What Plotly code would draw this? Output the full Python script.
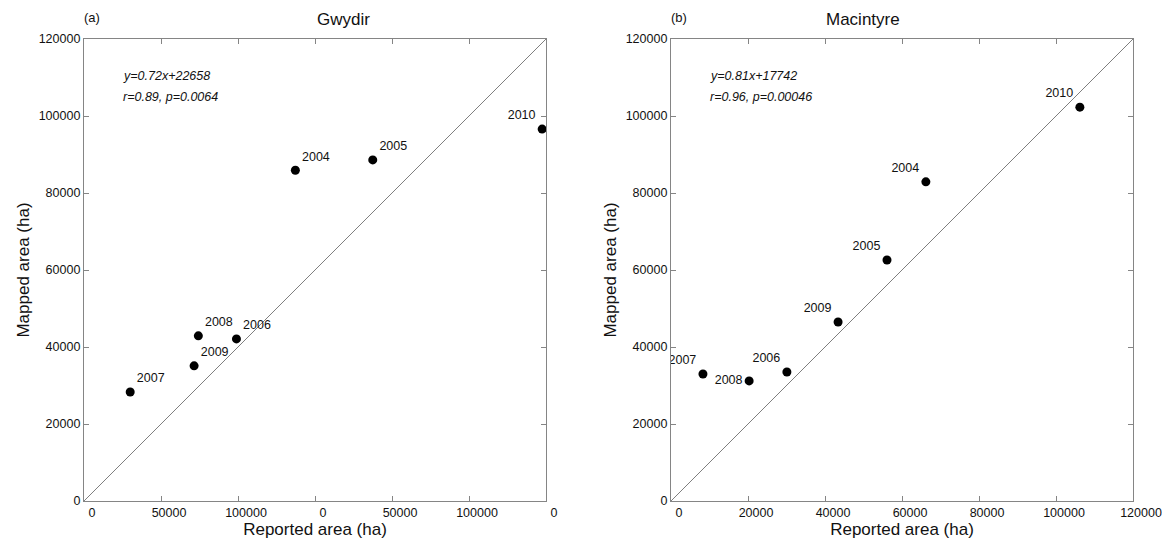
import plotly.graph_objects as go

years_g = ["2004", "2005", "2010", "2008", "2006", "2009", "2007"]
reported_g = [54900, 75000, 119000, 29700, 39600, 28600, 12000]
mapped_g = [85900, 88600, 96600, 42900, 42100, 35100, 28300]
pos_g = ["top right", "top right", "top left", "top right", "top right", "top right", "top right"]

years_m = ["2010", "2004", "2005", "2009", "2006", "2008", "2007"]
reported_m = [106200, 66200, 56100, 43400, 30100, 20300, 8300]
mapped_m = [102300, 82900, 62600, 46500, 33500, 31200, 33000]
pos_m = ["top left", "top left", "top left", "top left", "top left", "middle left", "top left"]

tickvals = [0, 20000, 40000, 60000, 80000, 100000, 120000]
ticktext_g = ["0", "50000", "100000", "0", "50000", "100000", "0"]
ticktext_m = ["0", "20000", "40000", "60000", "80000", "100000", "120000"]

fit_g = "y=0.72x+22658"
stat_g = "r=0.89, p=0.0064"
fit_m = "y=0.81x+17742"
stat_m = "r=0.96, p=0.00046"

W, H = 1162, 540
FONT = "Liberation Sans, Arial, sans-serif"

fig = go.Figure()

def px_x(a, b):
    return [a / W, b / W]

def px_y(top, bottom):
    return [1 - bottom / H, 1 - top / H]

panels = [
    dict(xa="x", ya="y", xd=px_x(84, 546), yd=px_y(39, 501), rep=reported_g, mp=mapped_g,
         yrs=years_g, pos=pos_g, tt=ticktext_g, title="Gwydir", tag="(a)", fit=fit_g, stat=stat_g),
    dict(xa="x2", ya="y2", xd=px_x(671, 1133), yd=px_y(39, 501), rep=reported_m, mp=mapped_m,
         yrs=years_m, pos=pos_m, tt=ticktext_m, title="Macintyre", tag="(b)", fit=fit_m, stat=stat_m),
]

for i, p in enumerate(panels):
    fig.add_trace(go.Scatter(x=[0, 120000], y=[0, 120000], mode="lines",
                             line=dict(color="#7f7f7f", width=1), xaxis=p["xa"], yaxis=p["ya"],
                             showlegend=False, hoverinfo="skip"))
    fig.add_trace(go.Scatter(x=p["rep"], y=p["mp"], mode="markers+text", text=p["yrs"],
                             textposition=p["pos"], textfont=dict(family=FONT, size=12.5, color="#111"),
                             marker=dict(color="black", size=9), xaxis=p["xa"], yaxis=p["ya"],
                             showlegend=False))
    suffix = "" if i == 0 else "2"
    axcommon = dict(showgrid=False, zeroline=False, showline=True, linecolor="#858585", linewidth=1.3,
                    mirror="ticks", ticks="inside", ticklen=5, tickcolor="#858585", automargin=False,
                    tickfont=dict(family=FONT, size=12.5, color="#111"), range=[0, 120000])
    fig.layout["xaxis" + suffix] = dict(axcommon, domain=p["xd"], anchor="y" + suffix,
                                        tickvals=tickvals, ticktext=p["tt"], ticklabelshift=8,
                                        title=dict(text="Reported area (ha)", font=dict(family=FONT, size=17, color="#111"), standoff=2))
    fig.layout["yaxis" + suffix] = dict(axcommon, domain=p["yd"], anchor="x" + suffix,
                                        tickvals=tickvals, ticktext=[str(v) for v in tickvals],
                                        title=dict(text="Mapped area (ha)", font=dict(family=FONT, size=17, color="#111"), standoff=4))
    xc = (p["xd"][0] + p["xd"][1]) / 2
    fig.add_annotation(text=p["title"], x=xc, y=1 - 19 / H, xref="paper", yref="paper",
                       yanchor="middle", showarrow=False, font=dict(family=FONT, size=17, color="#111"))
    fig.add_annotation(text=p["tag"], x=p["xd"][0] - 2 / W, y=1 - 18 / H, xref="paper", yref="paper",
                       xanchor="left", yanchor="middle", showarrow=False, font=dict(family=FONT, size=13, color="#111"))
    fig.add_annotation(text="<i>" + p["fit"] + "</i>",
                       x=p["xd"][0] + 37 / W, y=1 - 76 / H, xref="paper", yref="paper",
                       xanchor="left", yanchor="middle", showarrow=False,
                       font=dict(family=FONT, size=12.5, color="#111"))
    fig.add_annotation(text="<i>" + p["stat"] + "</i>",
                       x=p["xd"][0] + 37 / W, y=1 - 97 / H, xref="paper", yref="paper",
                       xanchor="left", yanchor="middle", showarrow=False,
                       font=dict(family=FONT, size=12.5, color="#111"))

fig.update_layout(width=W, height=H, margin=dict(l=0, r=0, t=0, b=0),
                  plot_bgcolor="white", paper_bgcolor="white", font=dict(family=FONT))
fig.write_html("out.html", config={"displayModeBar": False},
               post_script="document.body.style.margin='0px';")
